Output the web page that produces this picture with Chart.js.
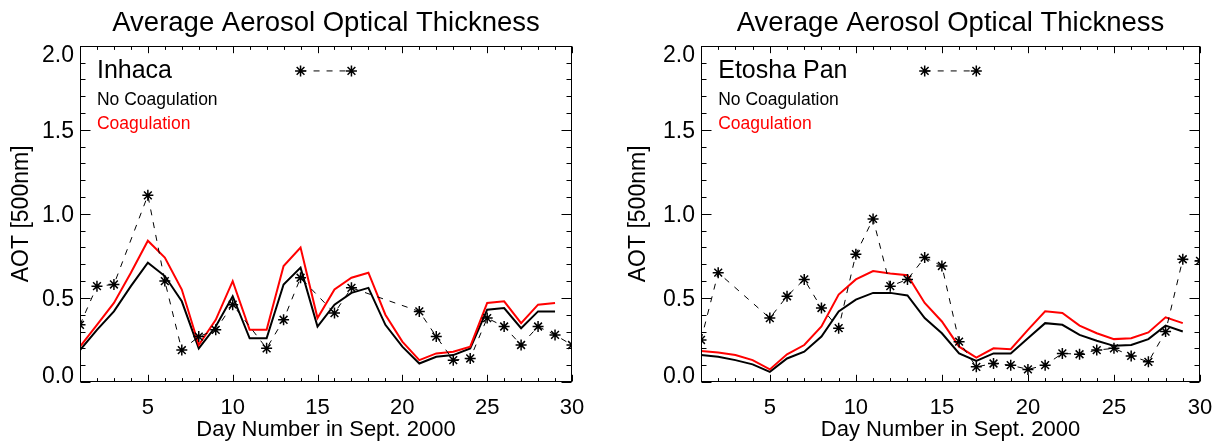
<!DOCTYPE html>
<html><head><meta charset="utf-8">
<script src="https://cdn.jsdelivr.net/npm/chart.js@4.4.0/dist/chart.umd.min.js"></script>
<style>
html,body{margin:0;padding:0;background:#fff;width:1225px;height:445px;overflow:hidden}
canvas{position:absolute;top:0}
#c1{left:0}
#c2{left:612px}
</style></head><body>
<canvas id="c1" width="612" height="445"></canvas>
<canvas id="c2" width="613" height="445"></canvas>
<script>
// ---- data ----
const days = [1,2,3,4,5,6,7,8,9,10,11,12,13,14,15,16,17,18,19,20,21,22,23,24,25,26,27,28,29,30];
const tickDays = [5,10,15,20,25,30];
const tickAOT = [0,0.5,1.0,1.5,2.0];

const inhacaObs     = [0.34,0.57,0.58,null,1.11,0.60,0.19,0.27,0.31,0.46,null,0.20,0.37,0.62,null,0.41,0.56,null,null,null,0.42,0.27,0.13,0.14,0.38,0.33,0.22,0.33,0.28,0.22];
const inhacaNoCoag  = [0.19,0.31,0.42,0.57,0.71,0.63,0.48,0.20,0.33,0.51,0.26,0.26,0.58,0.68,0.33,0.46,0.53,0.56,0.34,0.21,0.11,0.15,0.16,0.20,0.43,0.44,0.32,0.42,0.42,null];
const inhacaCoag    = [0.21,0.34,0.47,0.65,0.84,0.74,0.55,0.22,0.37,0.60,0.31,0.31,0.69,0.80,0.38,0.55,0.62,0.65,0.40,0.24,0.13,0.17,0.18,0.21,0.47,0.48,0.35,0.46,0.47,null];

const etoshaObs     = [0.25,0.65,null,null,0.38,0.51,0.61,0.44,0.32,0.76,0.97,0.57,0.61,0.74,0.69,0.24,0.09,0.11,0.10,0.075,0.10,0.17,0.165,0.19,0.20,0.155,0.12,0.30,0.73,0.72];
const etoshaNoCoag  = [0.16,0.15,0.13,0.105,0.06,0.14,0.18,0.27,0.42,0.49,0.53,0.53,0.515,0.38,0.29,0.17,0.125,0.17,0.17,0.26,0.35,0.34,0.28,0.245,0.215,0.22,0.255,0.335,0.30,null];
const etoshaCoag    = [0.185,0.175,0.16,0.13,0.075,0.165,0.22,0.33,0.52,0.61,0.66,0.645,0.635,0.47,0.36,0.21,0.145,0.20,0.195,0.31,0.42,0.41,0.335,0.29,0.255,0.26,0.295,0.385,0.35,null];

const titleText = 'Average Aerosol Optical Thickness';
const xTitle = 'Day Number in Sept. 2000';
const yTitle = 'AOT [500nm]';
const legendNo = 'No Coagulation';
const legendCo = 'Coagulation';

// ---- setup ----
const FONT = "'Liberation Sans', Arial, Helvetica, sans-serif";
Chart.defaults.font.family = FONT;
Chart.defaults.color = '#000';
const STAR_R = 5.5;

function pts(arr){ return days.map((d,i)=>({x:d, y:arr[i]})); }

const idlPlugin = {
  id: 'idl',
  afterDraw(chart, args, o) {
    const {ctx, chartArea: a, scales: {x, y}} = chart;
    ctx.save();
    const L = Math.round(a.left)+0.5, R = Math.round(a.right)-0.5;
    const T = Math.round(a.top)+0.5, B = Math.round(a.bottom)-0.5;
    ctx.strokeStyle = '#000'; ctx.lineWidth = 1; ctx.setLineDash([]);
    ctx.strokeRect(L, T, R-L, B-T);
    ctx.beginPath();
    for (const d of days) {
      const px = Math.round(x.getPixelForValue(d)) + 0.5;
      const len = tickDays.includes(d) ? 6.7 : 3.4;
      ctx.moveTo(px, B); ctx.lineTo(px, B-len);
      ctx.moveTo(px, T); ctx.lineTo(px, T+len);
    }
    for (let k = 0; k <= 20; k++) {
      const py = Math.round(y.getPixelForValue(k/10)) + 0.5;
      const len = (k % 5 === 0) ? 10 : 5;
      ctx.moveTo(L, py); ctx.lineTo(L+len, py);
      ctx.moveTo(R, py); ctx.lineTo(R-len, py);
    }
    ctx.stroke();

    // tick labels
    ctx.fillStyle = '#000';
    ctx.font = '23px ' + FONT;
    ctx.textAlign = 'right'; ctx.textBaseline = 'alphabetic';
    for (const v of tickAOT) {
      const py = y.getPixelForValue(v);
      const c = Math.min(Math.max(py, a.top + 8.5), a.bottom - 7);
      ctx.fillText(v.toFixed(1), a.left - 6, c + 0.358*23);
    }
    ctx.font = '22px ' + FONT;
    ctx.textAlign = 'center';
    for (const d of tickDays) {
      ctx.fillText(String(d), x.getPixelForValue(d), a.bottom + 32);
    }

    // legend texts (placed in data coordinates)
    ctx.textAlign = 'left';
    const tx = x.getPixelForValue(2);
    ctx.font = '25px ' + FONT;
    ctx.fillText(o.name, tx, y.getPixelForValue(1.81));
    ctx.font = '17.5px ' + FONT;
    ctx.fillText(legendNo, tx, y.getPixelForValue(1.65));
    ctx.fillStyle = '#ff0000';
    ctx.fillText(legendCo, tx, y.getPixelForValue(1.505));

    // observation legend sample
    const ly = y.getPixelForValue(1.85);
    const x1 = x.getPixelForValue(14), x2 = x.getPixelForValue(17);
    ctx.strokeStyle = '#000';
    ctx.lineWidth = 1;
    ctx.setLineDash([6,7]);
    ctx.beginPath(); ctx.moveTo(x1, ly); ctx.lineTo(x2, ly); ctx.stroke();
    ctx.setLineDash([]);
    ctx.lineWidth = 1.5;
    Chart.helpers.drawPoint(ctx, {pointStyle:'star', radius:STAR_R, rotation:0, borderWidth:1.5}, x1, ly);
    Chart.helpers.drawPoint(ctx, {pointStyle:'star', radius:STAR_R, rotation:0, borderWidth:1.5}, x2, ly);
    ctx.restore();
  }
};

function makeChart(id, name, obs, noCoag, coag, yAxisWidth, padRight, yTitlePad) {
  return new Chart(document.getElementById(id), {
    type: 'line',
    data: {
      datasets: [
        { label: 'Observed', data: pts(obs), borderColor: '#000', borderWidth: 1, borderDash: [6,7],
          pointStyle: 'star', pointRadius: STAR_R, pointBorderWidth: 1.5, pointBorderColor: '#000',
          pointBackgroundColor: '#000', spanGaps: true, clip: 0, tension: 0 },
        { label: legendCo, data: pts(coag), borderColor: '#ff0000', borderWidth: 2, pointRadius: 0, clip: 0, tension: 0 },
        { label: legendNo, data: pts(noCoag), borderColor: '#000', borderWidth: 2, pointRadius: 0, clip: 0, tension: 0 }
      ]
    },
    options: {
      responsive: false, animation: false, devicePixelRatio: 1, events: [],
      layout: { padding: { left: 0, right: padRight, top: 0, bottom: 0 } },
      plugins: {
        legend: { display: false },
        tooltip: { enabled: false },
        title: { display: true, text: titleText, fullSize: false, color: '#000',
                 font: { size: 27.5, weight: 'normal', lineHeight: 1.2 }, padding: { top: 7, bottom: 5.7 } },
        idl: { name: name }
      },
      scales: {
        x: { type: 'linear', min: 1, max: 30,
             grid: { display: false }, border: { display: false },
             ticks: { display: false },
             title: { display: true, text: xTitle, color: '#000', font: { size: 22, lineHeight: 1.2 }, padding: { top: 0, bottom: 1.5 } },
             afterFit(s) { s.height = 63; } },
        y: { type: 'linear', min: 0, max: 2,
             grid: { display: false }, border: { display: false },
             ticks: { display: false },
             title: { display: true, text: yTitle, color: '#000', font: { size: 23, lineHeight: 1.2 }, padding: { top: yTitlePad, bottom: 0 } },
             afterFit(s) { s.width = yAxisWidth; } }
      }
    },
    plugins: [idlPlugin]
  });
}

makeChart('c1', 'Inhaca', inhacaObs, inhacaNoCoag, inhacaCoag, 80, 40, 8);
makeChart('c2', 'Etosha Pan', etoshaObs, etoshaNoCoag, etoshaCoag, 89, 25, 13);
</script>
</body></html>
